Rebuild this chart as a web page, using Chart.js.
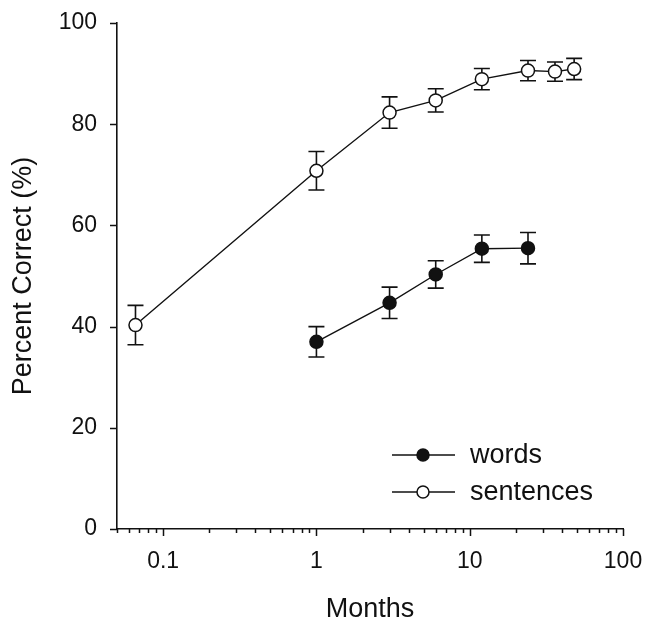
<!DOCTYPE html>
<html>
<head>
<meta charset="utf-8">
<script src="https://cdn.jsdelivr.net/npm/chart.js@4.4.0/dist/chart.umd.min.js"></script>
<style>
  html, body { margin: 0; padding: 0; background: #fff; }
  #wrap { width: 646px; height: 619px; }
</style>
</head>
<body>
<div id="wrap"><canvas id="lineChart" width="646" height="619"></canvas></div>
<script>
// follow-up time in months and mean scores (± error) per test
const sentenceMonths = [0.066, 1, 3, 6, 12, 24, 36, 48];
const sentenceScores = [40.3, 70.8, 82.3, 84.7, 88.9, 90.6, 90.4, 90.9];
const sentenceErrors = [3.9, 3.8, 3.1, 2.3, 2.1, 2.0, 1.9, 2.1];

const wordMonths = [1, 3, 6, 12, 24];
const wordScores = [37.0, 44.7, 50.3, 55.4, 55.5];
const wordErrors = [3.0, 3.1, 2.7, 2.7, 3.1];

const monthTicks = [0.1, 1, 10, 100];
const percentTicks = [0, 20, 40, 60, 80, 100];

const FONT = '"Liberation Sans", Arial, Helvetica, sans-serif';
const INK = '#111';

// log axis minor ticks: 2..9 of every decade between 0.05 and 100
const minorTicks = [];
[0.01, 0.1, 1, 10].forEach(dec => {
  for (let d = 2; d <= 9; d++) {
    const v = +(d * dec).toPrecision(3);
    if (v >= 0.05 && v < 100) minorTicks.push(v);
  }
});

function toPoints(xs, ys) {
  return xs.map((x, i) => ({ x: x, y: ys[i] }));
}

// vertical error bars with caps, drawn under the markers
const errorBars = {
  id: 'errorBars',
  beforeDatasetsDraw(chart) {
    const ctx = chart.ctx;
    const xs = chart.scales.x, ys = chart.scales.y;
    ctx.save();
    ctx.strokeStyle = INK;
    ctx.lineWidth = 1.6;
    chart.data.datasets.forEach(ds => {
      ds.data.forEach((p, i) => {
        const e = ds.errors[i];
        const px = xs.getPixelForValue(p.x);
        const top = ys.getPixelForValue(p.y + e);
        const bot = ys.getPixelForValue(p.y - e);
        ctx.beginPath();
        ctx.moveTo(px, top); ctx.lineTo(px, bot);
        ctx.moveTo(px - 8, top); ctx.lineTo(px + 8, top);
        ctx.moveTo(px - 8, bot); ctx.lineTo(px + 8, bot);
        ctx.stroke();
      });
    });
    ctx.restore();
  }
};

// outward tick marks: long at decades, short in between
const axisTicks = {
  id: 'axisTicks',
  afterDraw(chart) {
    const ctx = chart.ctx;
    const xs = chart.scales.x, ys = chart.scales.y;
    const area = chart.chartArea;
    ctx.save();
    ctx.strokeStyle = INK;
    ctx.lineWidth = 1.5;
    ctx.beginPath();
    percentTicks.forEach(v => {
      const py = Math.round(ys.getPixelForValue(v)) + 0.5;
      ctx.moveTo(area.left - 7, py); ctx.lineTo(area.left, py);
    });
    monthTicks.forEach(v => {
      const px = Math.round(xs.getPixelForValue(v)) + 0.5;
      ctx.moveTo(px, area.bottom); ctx.lineTo(px, area.bottom + 7);
    });
    minorTicks.forEach(v => {
      const px = Math.round(xs.getPixelForValue(v)) + 0.5;
      ctx.moveTo(px, area.bottom); ctx.lineTo(px, area.bottom + 4);
    });
    ctx.stroke();
    ctx.restore();
  }
};

// legend sitting inside the plot, lower right
const insideLegend = {
  id: 'insideLegend',
  afterDraw(chart) {
    const ctx = chart.ctx;
    const area = chart.chartArea;
    const x0 = area.left + 275, x1 = area.left + 338, xm = area.left + 306;
    ctx.save();
    ctx.font = '27px ' + FONT;
    ctx.textBaseline = 'middle';
    ctx.fillStyle = INK;
    const rows = [chart.data.datasets[1], chart.data.datasets[0]];
    rows.forEach((ds, i) => {
      const y = area.bottom - 74 + i * 37;
      ctx.strokeStyle = INK;
      ctx.lineWidth = 1.4;
      ctx.beginPath();
      ctx.moveTo(x0, y); ctx.lineTo(x1, y);
      ctx.stroke();
      ctx.beginPath();
      ctx.arc(xm, y, 6, 0, Math.PI * 2);
      ctx.fillStyle = ds.pointBackgroundColor;
      ctx.fill();
      ctx.lineWidth = 1.5;
      ctx.stroke();
      ctx.fillStyle = INK;
      ctx.fillText(ds.label, area.left + 353, y + 1);
    });
    ctx.restore();
  }
};

new Chart(document.getElementById('lineChart'), {
  type: 'line',
  data: {
    datasets: [
      {
        label: 'sentences',
        data: toPoints(sentenceMonths, sentenceScores),
        errors: sentenceErrors,
        borderColor: INK,
        borderWidth: 1.4,
        pointRadius: 6.5,
        pointBorderWidth: 1.5,
        pointBorderColor: INK,
        pointBackgroundColor: '#fff',
        tension: 0
      },
      {
        label: 'words',
        data: toPoints(wordMonths, wordScores),
        errors: wordErrors,
        borderColor: INK,
        borderWidth: 1.4,
        pointRadius: 6.5,
        pointBorderWidth: 1.5,
        pointBorderColor: INK,
        pointBackgroundColor: INK,
        tension: 0
      }
    ]
  },
  options: {
    responsive: false,
    animation: false,
    devicePixelRatio: 1,
    layout: { padding: { top: 23, right: 23, left: 0, bottom: 0 } },
    plugins: { legend: { display: false }, tooltip: { enabled: false } },
    scales: {
      x: {
        type: 'logarithmic',
        min: 0.05,
        max: 100,
        afterBuildTicks(scale) {
          scale.ticks = monthTicks.concat(minorTicks).sort((a, b) => a - b).map(v => ({ value: v }));
        },
        afterFit(scale) {
          scale.height = 90;
          scale.paddingLeft = 0;
          scale.paddingRight = 0;
        },
        grid: { display: false, drawTicks: false },
        border: { display: true, color: INK, width: 1.6 },
        ticks: {
          autoSkip: false,
          maxRotation: 0,
          padding: 19,
          color: INK,
          font: { family: FONT, size: 23 },
          callback: v => monthTicks.includes(v) ? String(v) : ''
        },
        title: {
          display: true,
          text: 'Months',
          color: INK,
          font: { family: FONT, size: 27, lineHeight: 1 },
          padding: { top: 0, bottom: -4 }
        }
      },
      y: {
        min: 0,
        max: 100,
        afterBuildTicks(scale) {
          scale.ticks = percentTicks.map(v => ({ value: v }));
        },
        afterFit(scale) {
          scale.width = 117;
          scale.paddingTop = 0;
          scale.paddingBottom = 0;
        },
        grid: { display: false, drawTicks: false },
        border: { display: true, color: INK, width: 1.6 },
        ticks: {
          padding: 20,
          color: INK,
          font: { family: FONT, size: 23 }
        },
        title: {
          display: true,
          text: 'Percent Correct (%)',
          color: INK,
          font: { family: FONT, size: 27, lineHeight: 1 },
          padding: { top: 10, bottom: 0 }
        }
      }
    }
  },
  plugins: [errorBars, axisTicks, insideLegend]
});
</script>
</body>
</html>
